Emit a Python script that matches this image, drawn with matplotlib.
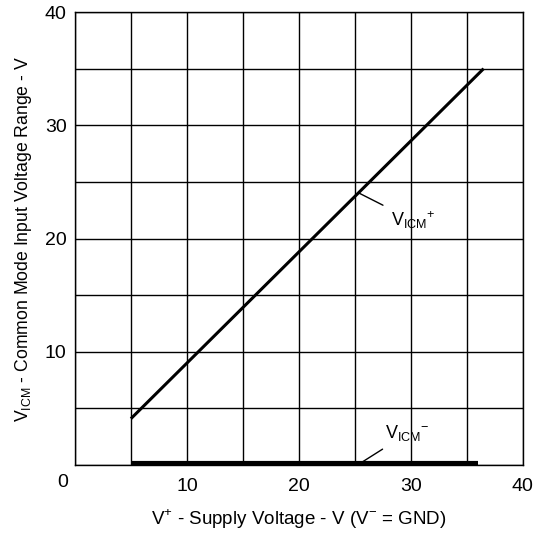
import matplotlib
matplotlib.use('Agg')
from matplotlib import pyplot as plt

plt.rcParams['font.family'] = ['Liberation Sans', 'DejaVu Sans']
plt.rcParams['mathtext.fontset'] = 'custom'
plt.rcParams['mathtext.rm'] = 'Liberation Sans'

# V_ICM+ upper limit of common mode range
vplus_hi = [5, 36.5]
vicm_hi = [4.1, 35]
# V_ICM- lower limit (sits on ground)
vplus_lo = [5, 36]
vicm_lo = [0.15, 0.15]

grid_vals = list(range(0, 41, 5))
tick_labels = ['' if v % 10 or v == 0 else str(v) for v in grid_vals]

fig = plt.figure(figsize=(5.39, 5.34), dpi=100)
ax = fig.add_axes([0.139, 0.129, 0.831, 0.8485])

ax.plot(vplus_hi, vicm_hi, color='black', lw=2.2, solid_capstyle='butt')
ax.plot(vplus_lo, vicm_lo, color='black', lw=3, solid_capstyle='butt')

ax.set_xlim(0, 40)
ax.set_ylim(0, 40)
ax.set_xticks(grid_vals)
ax.set_yticks(grid_vals)
ax.grid(True, color='black', lw=1)
ax.set_xticklabels(tick_labels)
ax.set_yticklabels(tick_labels)
ax.tick_params(length=0, labelsize=14)
ax.tick_params(axis='x', pad=9)
ax.tick_params(axis='y', pad=6)
for s in ax.spines.values():
    s.set_linewidth(1)
ax.text(-1.1, -1.5, '0', fontsize=14, ha='center', va='center')

ax.set_xlabel(r'V$^{+}$ - Supply Voltage - V (V$^{-}$ = GND)', fontsize=13.5, labelpad=9)
ax.set_ylabel(r'V$_{\mathregular{ICM}}$ - Common Mode Input Voltage Range - V', fontsize=12.7, labelpad=8)

ax.annotate(r'V$_{\mathregular{ICM}}{}^{+}$', xy=(25.4, 24.0), xytext=(28.2, 21.6),
            fontsize=13, va='center', ha='left',
            arrowprops=dict(arrowstyle='-', lw=1, color='black', shrinkA=4, shrinkB=0))
ax.annotate(r'V$_{\mathregular{ICM}}{}^{-}$', xy=(25.7, 0.3), xytext=(27.7, 2.8),
            fontsize=13, va='center', ha='left',
            arrowprops=dict(arrowstyle='-', lw=1, color='black', shrinkA=4, shrinkB=0))

fig.savefig('out.png', dpi=100)
